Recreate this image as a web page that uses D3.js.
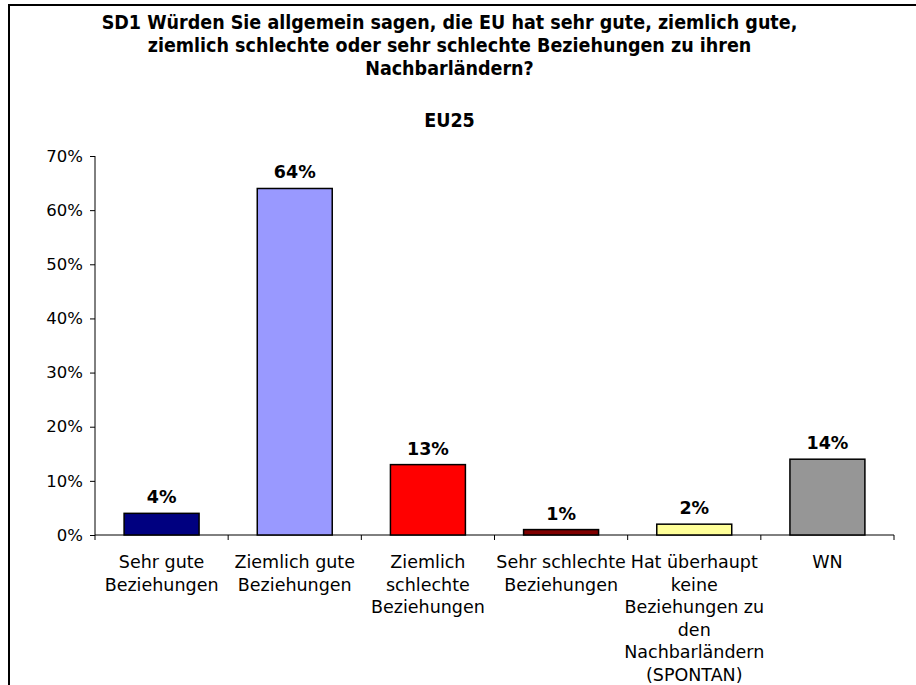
<!DOCTYPE html>
<html>
<head>
<meta charset="utf-8">
<script src="https://cdn.jsdelivr.net/npm/d3@7"></script>
<style>
  body { margin: 0; background: #fff; }
  svg text { font-family: "DejaVu Sans", Verdana, sans-serif; fill: #000; }
  svg .title { font-family: "DejaVu Sans Condensed", "DejaVu Sans", sans-serif; font-stretch: condensed; }
</style>
</head>
<body>
<div id="chart"></div>
<script>
const titleLines = [
    'SD1 Würden Sie allgemein sagen, die EU hat sehr gute, ziemlich gute,',
    'ziemlich schlechte oder sehr schlechte Beziehungen zu ihren',
    'Nachbarländern?'
];
const subtitle = 'EU25';
const categories = [
    ['Sehr gute', 'Beziehungen'],
    ['Ziemlich gute', 'Beziehungen'],
    ['Ziemlich', 'schlechte', 'Beziehungen'],
    ['Sehr schlechte', 'Beziehungen'],
    ['Hat überhaupt', 'keine', 'Beziehungen zu', 'den', 'Nachbarländern', '(SPONTAN)'],
    ['WN']
];
const values = [4, 64, 13, 1, 2, 14];
const colors = ['#000080', '#9999ff', '#ff0000', '#800000', '#ffff99', '#969696'];
const yTicks = [0, 10, 20, 30, 40, 50, 60, 70];

const width = 916, height = 685;
const margin = { left: 95, right: 22, top: 156, bottom: 150 };

const svg = d3.select('#chart')
    .append('svg')
    .attr('width', width)
    .attr('height', height);

// outer frame (only top and left edges visible)
svg.append('path')
    .attr('d', `M9,${height}V5H${width}`)
    .attr('fill', 'none')
    .attr('stroke', '#000')
    .attr('stroke-width', 2);

const title = svg.append('g').attr('font-weight', 'bold');
titleLines.forEach((t, i) => {
    title.append('text')
        .attr('class', 'title')
        .attr('x', 449.5)
        .attr('y', 29 + i * 23)
        .attr('text-anchor', 'middle')
        .attr('font-size', '19.5px')
        .text(t);
});
title.append('text')
    .attr('class', 'title')
    .attr('x', 449.5)
    .attr('y', 127)
    .attr('text-anchor', 'middle')
    .attr('font-size', '19.5px')
    .text(subtitle);

const idx = d3.range(values.length);
const x = d3.scaleBand()
    .domain(idx)
    .range([margin.left, width - margin.right]);

const y = d3.scaleLinear()
    .domain([0, 70])
    .range([height - margin.bottom, margin.top]);

// y axis
const yAxis = svg.append('g')
    .attr('transform', `translate(${margin.left},0)`)
    .call(d3.axisLeft(y).tickValues(yTicks).tickSize(5).tickPadding(7).tickFormat(d => d + '%'));
yAxis.selectAll('text').attr('font-size', '16.5px').attr('font-family', '"DejaVu Sans", Verdana, sans-serif');
yAxis.selectAll('line, path').attr('stroke', '#000');
yAxis.select('.domain').attr('d', `M0,${y(70)}V${y(0)}`);

// x axis: ticks at category boundaries
const xAxis = svg.append('g').attr('transform', `translate(0,${y(0)})`);
xAxis.append('line')
    .attr('x1', margin.left).attr('x2', width - margin.right)
    .attr('stroke', '#000');
xAxis.selectAll('.tick')
    .data(idx.concat([values.length]))
    .enter().append('line')
    .attr('x1', d => d < values.length ? x(d) : x(d - 1) + x.bandwidth())
    .attr('x2', d => d < values.length ? x(d) : x(d - 1) + x.bandwidth())
    .attr('y1', 0).attr('y2', 5)
    .attr('stroke', '#000');

const barW = x.bandwidth() * 0.563;
const barOff = (x.bandwidth() - barW) / 2;

svg.append('g')
    .selectAll('rect')
    .data(values)
    .enter().append('rect')
    .attr('x', (d, i) => x(i) + barOff)
    .attr('y', d => y(d))
    .attr('width', barW)
    .attr('height', d => y(0) - y(d))
    .attr('fill', (d, i) => colors[i])
    .attr('stroke', '#000')
    .attr('stroke-width', 1.5);

svg.append('g')
    .selectAll('text')
    .data(values)
    .enter().append('text')
    .attr('x', (d, i) => x(i) + x.bandwidth() / 2)
    .attr('y', d => y(d) - 10)
    .attr('text-anchor', 'middle')
    .attr('font-size', '17.5px')
    .attr('font-weight', 'bold')
    .text(d => d + '%');

// category labels
const catG = svg.append('g');
categories.forEach((lines, i) => {
    lines.forEach((t, j) => {
        catG.append('text')
            .attr('x', x(i) + x.bandwidth() / 2)
            .attr('y', y(0) + 33 + j * 22.6)
            .attr('text-anchor', 'middle')
            .attr('font-size', '17.5px')
            .text(t);
    });
});
</script>
</body>
</html>
